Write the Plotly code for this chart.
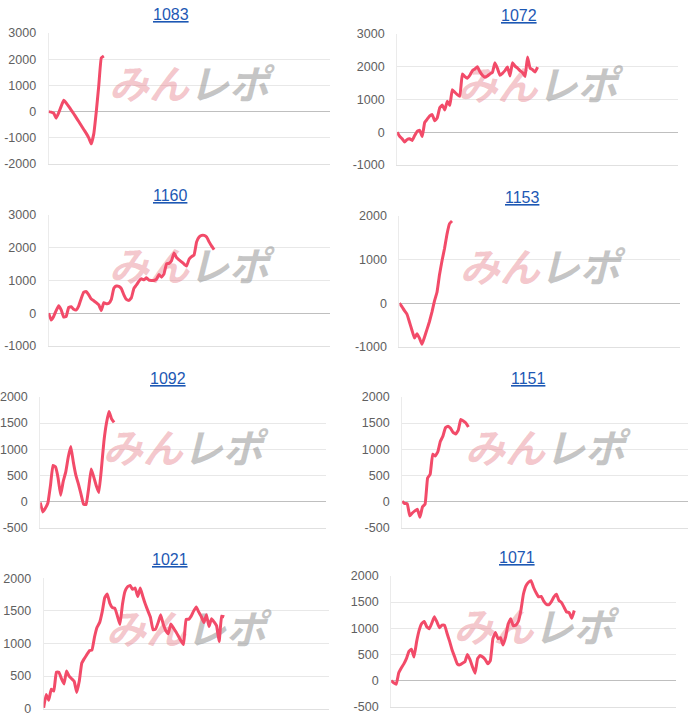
import plotly.graph_objects as go

# ---------------- data ----------------
titles = ["1083", "1072", "1160", "1153", "1092", "1151", "1021", "1071"]

s1083 = [0, -20, -60, -250, -50, 200, 430, 330, 200, 60, -80, -230, -380, -530, -680,
         -830, -1000, -1230, -850, 0, 1000, 2050, 2120]
s1072 = [0, -120, -200, -300, -220, -200, -250, -100, 30, 60, -130, 300, 400, 500, 540,
         350, 440, 750, 830, 680, 950, 820, 1300, 1220, 1150, 1100, 1780, 1700, 1650,
         1740, 1880, 1930, 2000, 1850, 1740, 1680, 1720, 1780, 1830, 2120, 1950, 1740,
         1800, 1880, 1990, 1720, 2120, 2020, 1960, 1880, 1820, 1700, 2300, 1960, 1910,
         1840, 1990]
s1160 = [0, -210, -100, 80, 225, 100, -120, -100, 175, 195, 120, 100, 225, 450, 640,
         660, 560, 430, 380, 320, 250, 80, 320, 290, 300, 420, 760, 830, 820, 750, 560,
         420, 390, 470, 760, 860, 980, 1050, 1020, 1080, 1010, 1000, 1000, 1040, 1180,
         1100, 1200, 1510, 1520, 1600, 1840, 1700, 1630, 1570, 1500, 1440, 1650, 1730,
         1780, 2180, 2330, 2380, 2380, 2330, 2180, 2050, 1940]
s1153 = [0, -80, -170, -250, -430, -620, -800, -700, -800, -940, -780, -600, -420, -200,
         50, 250, 650, 970, 1250, 1580, 1820, 1880]
s1092 = [-20, -200, -130, -30, 300, 690, 660, 450, 120, 380, 560, 850, 1050, 750, 500,
         330, 140, -50, -60, 250, 620, 470, 300, 170, 620, 1150, 1500, 1720, 1580, 1510]
s1151 = [0, -40, -40, -275, -220, -180, -150, -300, -100, -50, 450, 520, 905, 870, 950,
         1150, 1250, 1410, 1440, 1400, 1320, 1290, 1360, 1570, 1540, 1500, 1425]
s1021 = [15, 220, 130, 300, 270, 560, 560, 460, 380, 580, 500, 460, 420, 250, 420, 700,
         770, 830, 890, 900, 1100, 1250, 1320, 1480, 1700, 1760, 1620, 1550, 1540, 1420,
         1290, 1600, 1800, 1870, 1890, 1830, 1850, 1720, 1850, 1720, 1600, 1500, 1400,
         1210, 1220, 1320, 1440, 1300, 1200, 1150, 1300, 1240, 1180, 1110, 1040, 985,
         1370, 1370, 1420, 1500, 1560, 1480, 1410, 1320, 1440, 1260, 1380, 1330, 1270,
         1030, 1420, 1410]
s1071 = [0, -40, -70, 150, 240, 320, 420, 560, 600, 450, 740, 960, 1090, 1130, 1030, 990,
         1100, 1220, 1120, 1010, 1060, 1060, 900, 750, 580, 450, 320, 300, 330, 360, 500,
         400, 260, 140, 420, 480, 450, 400, 320, 380, 800, 920, 800, 820, 680, 830, 1080,
         1180, 1050, 1060, 1130, 1340, 1650, 1810, 1880, 1910, 1780, 1680, 1600, 1610,
         1520, 1460, 1450, 1510, 1600, 1650, 1530, 1490, 1400, 1310, 1300, 1190, 1340]
series = [s1083, s1072, s1160, s1153, s1092, s1151, s1021, s1071]

n_slots = 112  # number of x-axis slots shared by every panel

y_ticks = [
    [-2000, -1000, 0, 1000, 2000, 3000],
    [-1000, 0, 1000, 2000, 3000],
    [-1000, 0, 1000, 2000, 3000],
    [-1000, 0, 1000, 2000],
    [-500, 0, 500, 1000, 1500, 2000],
    [-500, 0, 500, 1000, 1500, 2000],
    [0, 500, 1000, 1500, 2000],
    [-500, 0, 500, 1000, 1500, 2000],
]

# ---------------- layout (pixel boxes of each plot area) ----------------
W, H = 691, 719
boxes = [  # left, right, top, bottom in px
    (47.7, 329, 32.3, 163.3),
    (396.7, 678, 33.3, 164.3),
    (47.7, 329, 214.3, 345),
    (399, 680, 215, 346),
    (39.3, 325, 396, 526.7),
    (401.7, 687.7, 396, 526.7),
    (42.7, 328, 577.3, 707.7),
    (390.7, 676, 575, 705.7),
]
title_pos = [(170, 14), (519, 15), (170, 195), (522, 197),
             (167, 378), (528, 378), (169, 559), (517, 557)]


def vy(y):
    # vertical pixel correction observed in the rendered page
    return (y - 6.35) / 0.98


LINE = "#f24b69"
fig = go.Figure()
layout = dict(
    width=W, height=H, margin=dict(l=0, r=0, t=0, b=0),
    paper_bgcolor="white", plot_bgcolor="white", showlegend=False,
    font=dict(family="Liberation Sans, Arial, sans-serif", color="#666666", size=12),
    annotations=[],
)

for k in range(8):
    idx = k + 1
    xa = "x" if idx == 1 else f"x{idx}"
    ya = "y" if idx == 1 else f"y{idx}"
    l, r, t, b = boxes[k]
    ticks = y_ticks[k]
    ymin, ymax = ticks[0], ticks[-1]
    # watermark (behind the line)
    fig.add_trace(go.Scatter(
        x=[n_slots * 0.5], y=[ymin + 0.57 * (ymax - ymin)], mode="text",
        text=["<b><i><span style='color:rgba(228,120,132,0.42)'>みん</span>"
              "<span style='color:rgba(140,140,140,0.5)'>レポ</span></i></b>"],
        textfont=dict(family="Noto Sans CJK JP", size=40),
        textposition="middle center", hoverinfo="skip",
        xaxis=xa, yaxis=ya))
    fig.add_trace(go.Scatter(
        x=list(range(len(series[k]))), y=series[k], mode="lines",
        line=dict(color=LINE, width=3, shape="spline", smoothing=0.3),
        hoverinfo="skip", xaxis=xa, yaxis=ya))
    xkey = "xaxis" if idx == 1 else f"xaxis{idx}"
    ykey = "yaxis" if idx == 1 else f"yaxis{idx}"
    layout[xkey] = dict(
        domain=[l / W, r / W], anchor=ya, range=[0, n_slots],
        showgrid=False, zeroline=False, showticklabels=False, ticks="",
        showline=True, linecolor="rgba(0,0,0,0.12)", linewidth=1, fixedrange=True)
    layout[ykey] = dict(
        domain=[1 - vy(b) / H, 1 - vy(t) / H], anchor=xa, range=[ymin, ymax],
        tickmode="array", tickvals=ticks, ticktext=[str(v) for v in ticks],
        showgrid=True, gridcolor="rgba(0,0,0,0.09)", gridwidth=1,
        zeroline=True, zerolinecolor="rgba(0,0,0,0.25)", zerolinewidth=1,
        showline=True, linecolor="rgba(0,0,0,0.08)", linewidth=1,
        ticks="outside", ticklen=9, tickcolor="rgba(0,0,0,0)",
        tickfont=dict(size=12.5, color="#606060"), fixedrange=True)
    tx, ty = title_pos[k]
    layout["annotations"].append(dict(
        x=tx / W, y=1 - vy(ty) / H, xref="paper", yref="paper",
        text=f"<span style='text-decoration:underline'>{titles[k]}</span>",
        showarrow=False, xanchor="center", yanchor="middle",
        font=dict(size=16, color="#1d58b4", family="Liberation Sans, Arial, sans-serif")))

fig.update_layout(**layout)
fig.write_html("out.html")
